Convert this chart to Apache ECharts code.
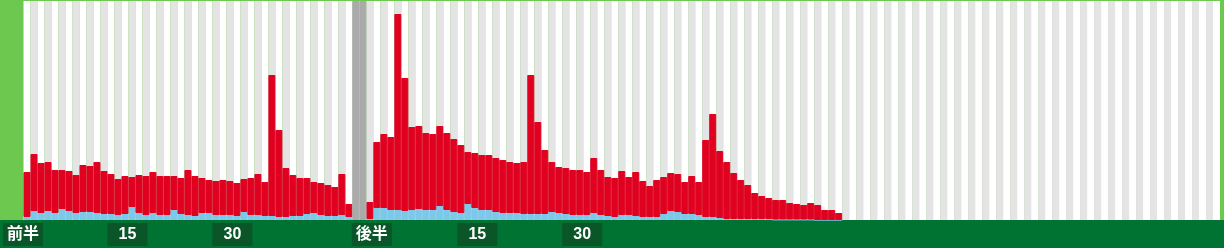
<!DOCTYPE html>
<html>
<head>
<meta charset="utf-8">
<script src="https://cdn.jsdelivr.net/npm/echarts@6/dist/echarts.min.js"></script>
<style>
html,body{margin:0;padding:0;background:#6cc84f;}
#chart{width:1224px;height:248px;}
</style>
</head>
<body>
<div id="chart"></div>
<script>
// ---- data (bar heights per minute slot) ----
const halfNames = ['前半', '後半'];
const minuteTicks = ['15', '30'];
const firstHalfSlots = 47;
const halftimeSlots = 2;
const secondHalfSlots = 122;

const firstHalfBlue = [3,9,7,9,7,11,9,7,8,8, 7,6,6,5,6,13,7,5,7,5, 5,10,6,5,4,7,7,5,5,5, 4,8,5,5,4,4,3,3,4,4, 6,7,5,4,4,5,3];
const firstHalfRed  = [45,57,50,49,43,39,40,38,47,46, 51,43,40,36,38,30,38,39,41,39, 39,34,36,45,40,35,33,34,35,34, 33,33,37,41,34,141,87,49,41,38, 36,31,32,31,29,41,13];
const secondHalfBlue = [1,12,12,10,10,9,10,11,10,10, 14,10,8,7,16,12,10,10,8,7, 7,7,6,6,6,6,8,7,6,5, 5,5,7,5,4,3,5,5,4,3, 3,3,6,9,8,6,6,5,3,3, 2,1,1,1,1,1,1,1,0.5,0.5, 0.5,0.5,0.5,0.5,0,0,0,0];
const secondHalfRed  = [17,66,74,73,196,133,83,83,77,76, 80,77,73,68,52,55,55,55,54,53, 51,50,52,139,92,64,50,46,46,45, 45,43,55,45,39,39,44,38,44,36, 31,37,37,38,38,32,38,33,77,103, 67,57,46,39,34,26,23,21,19.5,19.5, 16.5,15.5,14.5,16.5,15,10,10,7];

const yMax = 219;

// ---- build categories & series arrays ----
const categories = [];
for (let i = 1; i <= firstHalfSlots; i++) categories.push('H1-' + i);
for (let i = 1; i <= halftimeSlots; i++) categories.push('HT-' + i);
for (let i = 0; i < secondHalfSlots; i++) categories.push('H2-' + i);

function pad(arr, len) { const out = arr.slice(); while (out.length < len) out.push(null); return out; }
const gapNull = new Array(halftimeSlots).fill(null);
const blueData = [...pad(firstHalfBlue, firstHalfSlots), ...gapNull, ...pad(secondHalfBlue, secondHalfSlots)];
const redData  = [...pad(firstHalfRed, firstHalfSlots), ...gapNull, ...pad(secondHalfRed, secondHalfSlots)];
const sepData  = [...new Array(firstHalfSlots).fill(null), ...new Array(halftimeSlots).fill(yMax), ...new Array(secondHalfSlots).fill(null)];

const chart = echarts.init(document.getElementById('chart'), null, {renderer: 'canvas'});
const font = '"Liberation Sans", "Noto Sans CJK JP", sans-serif';
const boxStyle = {
  backgroundColor: '#0a5628', color: '#ffffff', fontWeight: 'bold', fontSize: 16,
  fontFamily: font, width: 40, height: 23, lineHeight: 23, align: 'center'
};
const BLUE = '#7cc8ea', RED = '#e00020', GRAY = '#aaaaaa';
chart.setOption({
  animation: false,
  backgroundColor: '#6cc84f',
  grid: {left: 23, right: 4, top: 1, bottom: 28, containLabel: false},
  graphic: [{
    type: 'rect', left: 0, top: 220, z: -10,
    shape: {width: 1224, height: 28}, style: {fill: '#007232'}
  }],
  xAxis: {
    type: 'category', data: categories, boundaryGap: true,
    axisLine: {show: false}, axisTick: {show: false},
    splitArea: {show: true, interval: 0, areaStyle: {color: ['#ffffff', '#e4e4e4']}},
    axisLabel: {
      interval: 0, margin: 3,
      formatter: function (name) {
        const parts = name.split('-');
        if (parts[0] === 'H1' && parts[1] === '1') return '{box|' + halfNames[0] + '}{sp| }';
        if (parts[0] === 'H2' && parts[1] === '0') return '{sp2| }{box|' + halfNames[1] + '}';
        if ((parts[0] === 'H1' || parts[0] === 'H2') && minuteTicks.indexOf(parts[1]) >= 0) return '{sp3| }{box|' + parts[1] + '}';
        return '';
      },
      rich: {
        box: boxStyle,
        sp: {width: 8, height: 23, lineHeight: 23, fontSize: 16},
        sp2: {width: 4, height: 23, lineHeight: 23, fontSize: 16},
        sp3: {width: 5, height: 23, lineHeight: 23, fontSize: 16}
      }
    }
  },
  yAxis: {type: 'value', min: 0, max: yMax, show: false, splitLine: {show: false}},
  series: [
    {name: 'blue', type: 'bar', stack: 's', data: blueData, barCategoryGap: '0%', barGap: '0%',
     itemStyle: {color: BLUE, borderColor: BLUE, borderWidth: 1}},
    {name: 'red', type: 'bar', stack: 's', data: redData, barCategoryGap: '0%', barGap: '0%',
     itemStyle: {color: RED, borderColor: RED, borderWidth: 1}},
    {name: 'halftime', type: 'bar', stack: 's', data: sepData, barCategoryGap: '0%', barGap: '0%',
     itemStyle: {color: GRAY, borderColor: GRAY, borderWidth: 1}}
  ]
});
</script>
</body>
</html>
